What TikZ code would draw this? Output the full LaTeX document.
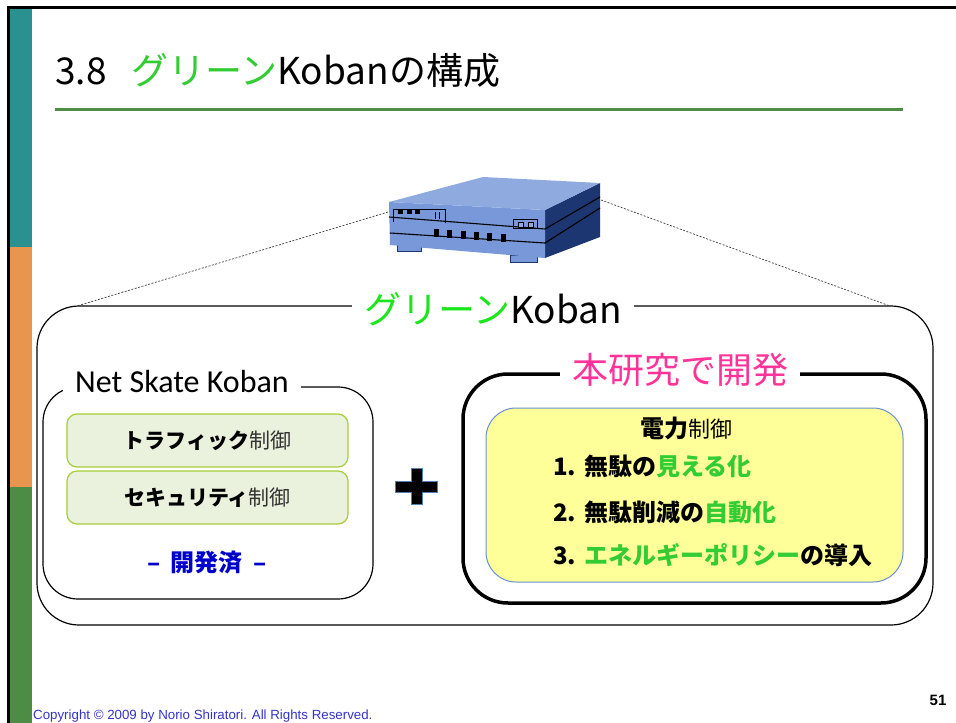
\documentclass[tikz,border=0pt]{standalone}
\usepackage{fontspec}
\setmainfont{Noto Sans CJK JP}
\newfontfamily\calfont{Carlito}
\newfontfamily\arialfont{Liberation Sans}
\newcommand\fsz[1]{\fontsize{#1}{#1}\selectfont}

\definecolor{barteal}{HTML}{2A9090}
\definecolor{barorange}{HTML}{E8964F}
\definecolor{bargreen}{HTML}{4C8C44}
\definecolor{ruleGreen}{HTML}{4F8C45}
\definecolor{kgreen}{HTML}{33CC33}
\definecolor{brightgreen}{HTML}{1BE61B}
\definecolor{devpink}{HTML}{FF3399}
\definecolor{boxfill}{HTML}{EAF1DD}
\definecolor{boxedge}{HTML}{A6CE39}
\definecolor{yfill}{HTML}{FFFF99}
\definecolor{yedge}{HTML}{6A8FD0}
\definecolor{ctrlgray}{HTML}{333333}
\definecolor{devblue}{HTML}{0000CC}
\definecolor{copyblue}{HTML}{3333CC}
\definecolor{srvtop}{HTML}{8EAADF}
\definecolor{srvfront}{HTML}{7898DA}
\definecolor{srvside}{HTML}{1C3672}
\definecolor{plusedge}{HTML}{4F81BD}

\begin{document}
\begin{tikzpicture}[x=1pt,y=-1pt,
  groupbox/.style={draw, inner sep=0, line width=1.2},
  funcbox/.style={draw=boxedge, fill=boxfill, line width=1.2, rounded corners=10,
    minimum width=281, minimum height=53, inner sep=0, font=\fsz{21}},
  gaplabel/.style={fill=white, inner xsep=12, inner ysep=2},
  listitem/.style={anchor=base west, inner sep=0, font=\bfseries\fsz{24}},
  zoomline/.style={draw=black!75, line width=0.7, dash pattern=on 2pt off 1.5pt},
  srvline/.style={black, line width=1.1}]
\useasboundingbox (0,0) rectangle (956,723);

% slide frame and side bar
\fill[barteal] (10,9) rectangle (32,247);
\fill[barorange] (10,247) rectangle (32,487);
\fill[bargreen] (10,487) rectangle (32,723);
\fill[black] (7,5.5) rectangle (956,9);
\fill[black] (7,5.5) rectangle (10,723);

% heading
\node[anchor=base west, inner sep=0, font=\fsz{37}] (secno) at (55,84) {3.8};
\node[anchor=base west, inner sep=0, font=\fsz{37}] (title) at (131,84)
  {\textcolor{kgreen}{グリーン}Kobanの構成};
\draw[ruleGreen, line width=2.2] (55,109.5) -- (903,109.5);

% server unit
\filldraw[fill=srvfront, draw=srvside, line width=0.6] (397,244) rectangle (421,251);
\filldraw[fill=srvfront, draw=srvside, line width=0.6] (510,255) rectangle (537,262);
\fill[srvside] (545,210) -- (600,183) -- (600,237) -- (545,258) -- cycle;
\fill[srvfront] (389,202) -- (545,210) -- (545,258) -- (390,245) -- cycle;
\fill[srvtop] (389,202) -- (483,177) -- (600,183) -- (545,210) -- cycle;
\draw[srvline] (389,217) -- (545,229) -- (600,197);
\draw[srvline] (390,233) -- (545,243) -- (600,208);
\draw[black, line width=0.7] (393,222) -- (393,209) -- (445,209) -- (445,222.5);
\fill[black] (398,208.5) rectangle (403,213.5);
\fill[black] (406.5,208.5) rectangle (411.5,213.5);
\fill[black] (415,208.5) rectangle (420,213.5);
\draw[black, line width=0.7] (435,212) -- (435,219) (439,212) -- (439,219);
\draw[black, line width=0.7] (513,219) rectangle (537,228.5);
\filldraw[fill=srvtop, draw=black, line width=0.7] (518,222) rectangle (523,227);
\filldraw[fill=srvtop, draw=black, line width=0.7] (528,222) rectangle (533,227);
\foreach \px in {434,447,461,474,487,501}
  \fill[black] (\px,{229+(\px-434)*0.07}) rectangle ({\px+4.5},{237+(\px-434)*0.07});
\coordinate (srvL) at (388,212);
\coordinate (srvR) at (601,200);

% outer group
\node[groupbox, rounded corners=42, minimum width=896, minimum height=319]
  (green) at (485,465.5) {};
\coordinate (greenTL) at (77,306);
\coordinate (greenTR) at (890,306);
\draw[zoomline] (srvL) -- (greenTL);
\draw[zoomline] (srvR) -- (greenTR);
\node[gaplabel, font=\fsz{37}] (greenlabel) at (493,309)
  {\textcolor{brightgreen}{グリーン}Koban};

% Net Skate Koban group
\node[groupbox, rounded corners=35, minimum width=330, minimum height=212]
  (nsk) at (208,493) {};
\node[gaplabel, anchor=base west, font=\calfont\fsz{32}] (nsklabel) at (63,392)
  {Net Skate Koban};
\node[funcbox] (traffic) at (207.5,440.5)
  {\textbf{トラフィック}\textcolor{ctrlgray}{制御}};
\node[funcbox] (security) at (207.5,497.5)
  {\textbf{セキュリティ}\textcolor{ctrlgray}{制御}};
\node[font=\bfseries\fsz{24}, text=devblue] (done) at (207,563)
  {–\hspace{0.45em}開発済\hspace{0.45em}–};

% plus sign
\filldraw[fill=black, draw=plusedge, line width=0.8]
  (395,481) -- (411,481) -- (411,468) -- (422,468) -- (422,481) -- (437,481)
  -- (437,492) -- (422,492) -- (422,504) -- (411,504) -- (411,492) -- (395,492) -- cycle;

% new development group
\node[groupbox, line width=3.5, rounded corners=45, minimum width=463, minimum height=229]
  (dev) at (694.5,488.5) {};
\node[gaplabel, font=\fsz{36}, text=devpink] (devlabel) at (680,370) {本研究で開発};
\node[draw=yedge, fill=yfill, line width=1, rounded corners=30, minimum width=417,
  minimum height=174, inner sep=0] (power) at (694.5,495) {};
\node[font=\fsz{23}] (powertitle) at (686,428) {\textbf{\fsz{24}電力}{\fsz{22}制御}};
\node[listitem] (item1) at (553,475)
  {1.\hspace{0.35em}無駄の\textcolor{kgreen}{見える化}};
\node[listitem] (item2) at (553,521)
  {2.\hspace{0.35em}無駄削減の\textcolor{kgreen}{自動化}};
\node[listitem] (item3) at (553,564)
  {3.\hspace{0.35em}\textcolor{kgreen}{エネルギーポリシー}の導入};

% footer
\node[anchor=base west, inner sep=0, text=copyblue, font=\arialfont\fsz{13.3}] (copyright)
  at (33,719) {Copyright © 2009 by Norio Shiratori. All Rights Reserved.};
\node[font=\arialfont\bfseries\fsz{15}] (pageno) at (938,700) {51};
\end{tikzpicture}
\end{document}
